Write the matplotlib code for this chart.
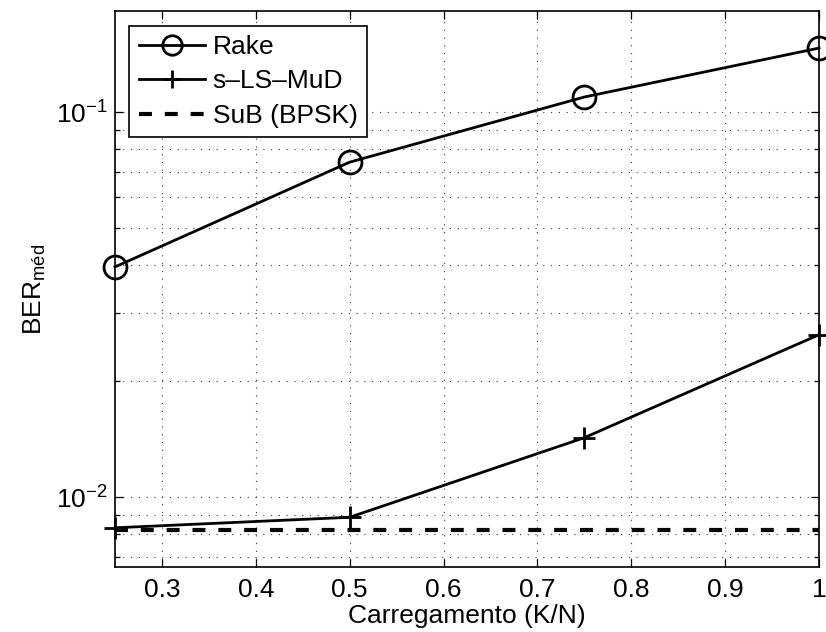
import matplotlib
matplotlib.use("Agg")
import matplotlib.pyplot as plt
from matplotlib.ticker import LogLocator, NullFormatter, FixedLocator

plt.rcParams['font.family'] = ['Liberation Sans', 'DejaVu Sans']
plt.rcParams['mathtext.fontset'] = 'custom'
plt.rcParams['mathtext.rm'] = 'Liberation Sans'
plt.rcParams['mathtext.it'] = 'Liberation Sans'

# Carregamento (K/N)
load = [0.25, 0.5, 0.75, 1.0]
ber_rake = [0.0396, 0.0741, 0.1094, 0.1466]
ber_slsmud = [0.00832, 0.00886, 0.01426, 0.0264]
ber_sub = [0.0082, 0.0082, 0.0082, 0.0082]

xticks = [0.3, 0.4, 0.5, 0.6, 0.7, 0.8, 0.9, 1.0]
xticklabels = ['0.3', '0.4', '0.5', '0.6', '0.7', '0.8', '0.9', '1']

FS = 19

fig = plt.figure(figsize=(8.26, 6.32), dpi=100)
ax = fig.add_axes([0.1392, 0.1028, 0.8523, 0.8798])

ax.semilogy(load, ber_rake, color='k', lw=2.0, marker='o', ms=16.5,
            mfc='none', mec='k', mew=2.0, label='Rake', clip_on=False, zorder=3)
ax.semilogy(load, ber_slsmud, color='k', lw=2.0, marker='+', ms=16,
            mew=2.0, label='s\u2013LS\u2013MuD', clip_on=False, zorder=3)
ax.semilogy(load, ber_sub, color='k', lw=3.0, dashes=(3.1, 3.1),
            label='SuB (BPSK)', zorder=3)

ax.set_xlim(0.25, 1.0)
ax.set_ylim(0.00658, 0.183)

ax.xaxis.set_major_locator(FixedLocator(xticks))
ax.set_xticklabels(xticklabels)
ax.yaxis.set_major_locator(LogLocator(base=10, numticks=10))
ax.yaxis.set_minor_locator(LogLocator(base=10, subs=range(2, 10), numticks=20))
ax.yaxis.set_minor_formatter(NullFormatter())

ax.tick_params(which='both', direction='in', top=True, right=True,
               labelsize=FS, width=0.9, colors='k')
ax.tick_params(which='major', length=6)
ax.tick_params(which='minor', length=3.5)
ax.tick_params(axis='x', pad=8)
ax.tick_params(axis='y', pad=5)

grid_kw = dict(color='0.2', linestyle=(0, (1, 6)), linewidth=0.8)
ax.grid(True, which='major', axis='both', **grid_kw)
ax.grid(True, which='minor', axis='y', **grid_kw)

for s in ax.spines.values():
    s.set_linewidth(1.2)

ax.set_xlabel('Carregamento (K/N)', fontsize=FS, labelpad=1)
ax.set_ylabel(r'BER$_{\mathrm{méd}}$', fontsize=FS, labelpad=6)

leg = ax.legend(loc='upper left', fontsize=FS, frameon=True, fancybox=False,
                edgecolor='k', framealpha=1, handlelength=2.5,
                handletextpad=0.3, borderpad=0.35, labelspacing=0.4,
                borderaxespad=0.55, markerscale=0.85)
leg.get_frame().set_linewidth(1.2)

fig.savefig('out.png', dpi=100)
